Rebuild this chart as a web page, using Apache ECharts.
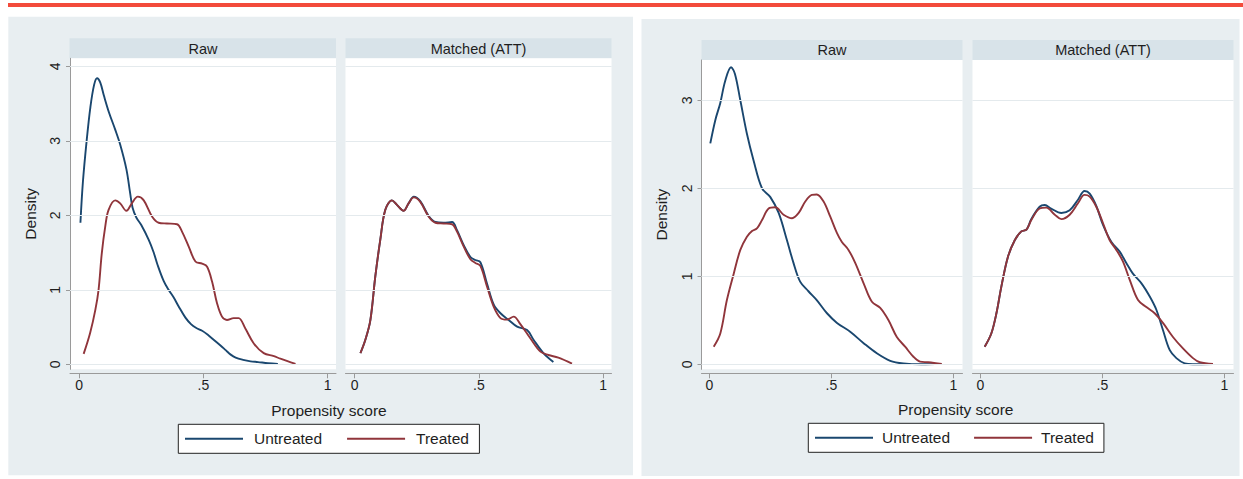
<!DOCTYPE html>
<html>
<head>
<meta charset="utf-8">
<script src="https://cdn.jsdelivr.net/npm/echarts@6/dist/echarts.min.js"></script>
<style>
html,body{margin:0;padding:0;background:#fff;}
#chart{width:1243px;height:479px;}
</style>
</head>
<body>
<div id="chart"></div>
<script>
// ---------- data ----------
const facetTitles = ['Raw', 'Matched (ATT)'];
const seriesNames = ['Untreated', 'Treated'];
const xTicks = [0, 0.5, 1];
const xTickLabels = ['0', '.5', '1'];
const yTicksLeft = [0, 1, 2, 3, 4];
const yTicksRight = [0, 1, 2, 3];
const xTitle = 'Propensity score';
const yTitle = 'Density';

// Left figure, Raw
const leftRawUntreated = [[0.005,1.90],[0.015,2.45],[0.03,3.0],[0.045,3.45],[0.06,3.75],[0.072,3.84],[0.085,3.78],[0.10,3.6],[0.12,3.38],[0.145,3.15],[0.165,2.95],[0.19,2.62],[0.205,2.3],[0.215,2.1],[0.23,1.97],[0.25,1.87],[0.28,1.67],[0.30,1.5],[0.315,1.34],[0.34,1.12],[0.36,1.0],[0.38,0.9],[0.40,0.78],[0.427,0.63],[0.45,0.54],[0.47,0.49],[0.495,0.45],[0.52,0.39],[0.545,0.32],[0.57,0.25],[0.59,0.19],[0.61,0.13],[0.63,0.09],[0.66,0.06],[0.69,0.04],[0.72,0.03],[0.76,0.015],[0.80,0.005]];
const leftRawTreated = [[0.018,0.14],[0.044,0.42],[0.065,0.73],[0.078,1.0],[0.091,1.49],[0.105,1.85],[0.118,2.07],[0.145,2.20],[0.165,2.16],[0.19,2.06],[0.212,2.16],[0.236,2.25],[0.26,2.2],[0.294,1.98],[0.32,1.90],[0.353,1.89],[0.394,1.88],[0.414,1.78],[0.441,1.58],[0.468,1.38],[0.495,1.35],[0.515,1.31],[0.535,1.11],[0.555,0.82],[0.575,0.64],[0.595,0.595],[0.622,0.62],[0.642,0.62],[0.669,0.48],[0.703,0.28],[0.743,0.15],[0.784,0.11],[0.81,0.075],[0.871,0.005]];
// Left figure, Matched
const leftMatchedUntreated = [[0.023,0.15],[0.043,0.33],[0.063,0.59],[0.083,1.18],[0.103,1.67],[0.123,2.07],[0.15,2.2],[0.17,2.14],[0.197,2.06],[0.217,2.16],[0.238,2.25],[0.264,2.19],[0.298,1.99],[0.325,1.91],[0.358,1.90],[0.392,1.91],[0.412,1.80],[0.439,1.60],[0.466,1.44],[0.486,1.40],[0.506,1.37],[0.533,1.08],[0.56,0.80],[0.587,0.685],[0.62,0.595],[0.654,0.505],[0.694,0.46],[0.72,0.33],[0.76,0.15],[0.80,0.03]];
const leftMatchedTreated = [[0.023,0.15],[0.043,0.33],[0.063,0.59],[0.083,1.18],[0.103,1.67],[0.123,2.07],[0.15,2.2],[0.17,2.14],[0.197,2.06],[0.217,2.16],[0.238,2.24],[0.264,2.18],[0.298,1.98],[0.325,1.90],[0.358,1.89],[0.392,1.88],[0.412,1.78],[0.439,1.58],[0.466,1.41],[0.486,1.36],[0.506,1.32],[0.533,1.04],[0.56,0.77],[0.587,0.62],[0.613,0.60],[0.64,0.64],[0.667,0.54],[0.707,0.35],[0.748,0.17],[0.78,0.125],[0.82,0.09],[0.875,0.01]];
// Right figure, Raw
const rightRawUntreated = [[0.004,2.51],[0.025,2.78],[0.045,2.97],[0.065,3.22],[0.089,3.375],[0.105,3.3],[0.127,3.0],[0.154,2.62],[0.181,2.32],[0.216,2.0],[0.25,1.90],[0.284,1.72],[0.318,1.41],[0.345,1.15],[0.372,0.94],[0.406,0.83],[0.44,0.73],[0.482,0.58],[0.523,0.47],[0.577,0.37],[0.632,0.24],[0.686,0.125],[0.741,0.04],[0.795,0.01],[0.87,0.0],[0.95,0.005]];
const rightRawTreated = [[0.018,0.2],[0.045,0.35],[0.072,0.73],[0.1,1.03],[0.127,1.30],[0.154,1.45],[0.175,1.515],[0.195,1.545],[0.216,1.64],[0.243,1.77],[0.27,1.785],[0.304,1.70],[0.339,1.66],[0.366,1.72],[0.393,1.85],[0.42,1.925],[0.44,1.93],[0.468,1.85],[0.495,1.68],[0.523,1.49],[0.543,1.39],[0.57,1.30],[0.598,1.15],[0.632,0.92],[0.666,0.71],[0.70,0.64],[0.734,0.50],[0.768,0.31],[0.802,0.20],[0.836,0.086],[0.863,0.03],[0.897,0.023],[0.952,0.003]];
// Right figure, Matched
const rightMatchedUntreated = [[0.018,0.2],[0.045,0.35],[0.066,0.58],[0.086,0.88],[0.113,1.22],[0.141,1.41],[0.168,1.51],[0.189,1.53],[0.209,1.65],[0.243,1.79],[0.264,1.81],[0.29,1.77],[0.332,1.72],[0.366,1.75],[0.40,1.87],[0.427,1.97],[0.448,1.94],[0.475,1.80],[0.503,1.58],[0.537,1.39],[0.571,1.28],[0.598,1.15],[0.625,1.03],[0.66,0.92],[0.694,0.77],[0.721,0.62],[0.748,0.39],[0.776,0.16],[0.803,0.07],[0.837,0.01],[0.871,0.0],[0.953,0.003]];
const rightMatchedTreated = [[0.018,0.2],[0.045,0.35],[0.066,0.58],[0.086,0.88],[0.113,1.22],[0.141,1.41],[0.168,1.51],[0.189,1.53],[0.209,1.64],[0.243,1.77],[0.27,1.78],[0.305,1.70],[0.332,1.65],[0.366,1.70],[0.40,1.83],[0.427,1.925],[0.448,1.905],[0.475,1.79],[0.503,1.60],[0.53,1.41],[0.557,1.30],[0.584,1.17],[0.612,0.96],[0.646,0.73],[0.68,0.65],[0.714,0.58],[0.748,0.47],[0.789,0.31],[0.83,0.18],[0.871,0.07],[0.899,0.023],[0.953,0.003]];

// ---------- styling / layout ----------
const FONT = '"Liberation Sans", Arial, sans-serif';
const BLUE = '#1a476f', RED = '#90353b';
const PANEL_BG = '#e8eef1', STRIP_BG = '#d8e3e9', GRIDLINE = '#e4eaed', AXIS = '#9a9a9a', TXT = '#1e1e1e';

const grids = [
  {left: 70,    top: 58.3, width: 266, height: 311},
  {left: 345.5, top: 58.3, width: 266, height: 311},
  {left: 701.5, top: 60,   width: 261, height: 309.3},
  {left: 972.5, top: 60,   width: 261, height: 309.3}
];
const xRanges = [[-0.037,1.034],[-0.037,1.034],[-0.032,1.037],[-0.032,1.037]];
const yRanges = [[-0.067,4.107],[-0.067,4.107],[-0.057,3.458],[-0.057,3.458]];
const yTickSets = [yTicksLeft, yTicksLeft, yTicksRight, yTicksRight];
const curves = [
  [leftRawUntreated, leftRawTreated],
  [leftMatchedUntreated, leftMatchedTreated],
  [rightRawUntreated, rightRawTreated],
  [rightMatchedUntreated, rightMatchedTreated]
];

const xAxes = grids.map((g, i) => ({
  type: 'value', gridIndex: i, min: xRanges[i][0], max: xRanges[i][1], offset: 4,
  axisLine: {show: true, onZero: false, lineStyle: {color: AXIS, width: 1}},
  axisTick: {show: true, length: 5, customValues: xTicks, lineStyle: {color: AXIS}},
  axisLabel: {show: true, customValues: xTicks, margin: 5, color: TXT, fontSize: 14, fontFamily: FONT,
    formatter: v => xTickLabels[xTicks.indexOf(v)] ?? ''},
  splitLine: {show: false}
}));

const yAxes = grids.map((g, i) => {
  const isFirst = i % 2 === 0;
  return {
    type: 'value', gridIndex: i, min: yRanges[i][0], max: yRanges[i][1],
    name: isFirst ? yTitle : '', nameLocation: 'middle', nameGap: 32,
    nameTextStyle: {fontSize: 15.5, color: TXT, fontFamily: FONT},
    axisLine: {show: isFirst, onZero: false, lineStyle: {color: AXIS, width: 1}},
    axisTick: {show: isFirst, length: 4, customValues: yTickSets[i], lineStyle: {color: AXIS}},
    axisLabel: {show: isFirst, customValues: yTickSets[i], rotate: 90, margin: 8, color: TXT, fontSize: 14, fontFamily: FONT,
      formatter: v => String(v)},
    splitLine: {show: false}
  };
});

const series = [];
grids.forEach((g, i) => {
  // horizontal grid lines at the y ticks
  series.push({
    name: 'gridlines' + i, type: 'line', xAxisIndex: i, yAxisIndex: i, data: [], z: 1, silent: true,
    markLine: {silent: true, symbol: ['none','none'], label: {show: false},
      lineStyle: {color: GRIDLINE, type: 'solid', width: 1.2}, emphasis: {disabled: true},
      data: yTickSets[i].map(v => ({yAxis: v}))}
  });
  [BLUE, RED].forEach((c, k) => {
    series.push({
      name: seriesNames[k], type: 'line', xAxisIndex: i, yAxisIndex: i, data: curves[i][k],
      smooth: 0.35, symbol: 'none', z: 3 + k, silent: true,
      lineStyle: {color: c, width: 1.9}, itemStyle: {color: c}
    });
  });
});

const legendCommon = {
  data: seriesNames, orient: 'horizontal', itemWidth: 58, itemHeight: 16,
  backgroundColor: '#ffffff', borderColor: '#222', borderWidth: 1, borderRadius: 0,
  selectedMode: false, icon: 'path://M0,7 L58,7 L58,9 L0,9 Z',
  textStyle: {fontSize: 15.5, color: TXT, fontFamily: FONT, lineHeight: 16}
};

const rect = (x, y, w, h, fill) => ({type: 'rect', shape: {x, y, width: w, height: h}, style: {fill}, z: -10, silent: true});
const txt = (x, y, s, size) => ({type: 'text', x, y, z: 10, silent: true,
  style: {text: s, fontSize: size, fontFamily: FONT, fill: TXT, align: 'center', verticalAlign: 'middle'}});

const option = {
  backgroundColor: '#ffffff',
  animation: false,
  grid: grids.map(g => Object.assign({show: true, backgroundColor: '#ffffff', borderWidth: 0, containLabel: false}, g)),
  xAxis: xAxes,
  yAxis: yAxes,
  legend: [
    Object.assign({}, legendCommon, {left: 178.3, top: 424.3, itemGap: 25, padding: [6.5, 10.5, 6.5, 6.7],
      textStyle: Object.assign({}, legendCommon.textStyle, {padding: [0, 0, 0, 6]})}),
    Object.assign({}, legendCommon, {left: 808.3, top: 423.3, itemGap: 24, padding: [6.5, 10, 6.5, 6.7],
      textStyle: Object.assign({}, legendCommon.textStyle, {padding: [0, 0, 0, 4]})})
  ],
  graphic: {elements: [
    rect(8, 3, 1235, 4, '#f34b3b'),
    rect(8.3, 16.7, 624.7, 458.6, PANEL_BG),
    rect(641.5, 19, 598, 457, PANEL_BG),
    rect(69.5, 38.3, 266.5, 20, STRIP_BG),
    rect(345.5, 38.3, 266, 20, STRIP_BG),
    rect(701.5, 40, 261, 20, STRIP_BG),
    rect(972.5, 40, 261, 20, STRIP_BG),
    txt(203, 48.5, facetTitles[0], 14.5),
    txt(478.5, 48.5, facetTitles[1], 14.5),
    txt(832, 50, facetTitles[0], 14.5),
    txt(1103, 50, facetTitles[1], 14.5),
    txt(329, 410, xTitle, 15.5),
    txt(955.7, 409, xTitle, 15.5)
  ]},
  series
};

const chart = echarts.init(document.getElementById('chart'), null, {renderer: 'svg'});
chart.setOption(option);
</script>
</body>
</html>
